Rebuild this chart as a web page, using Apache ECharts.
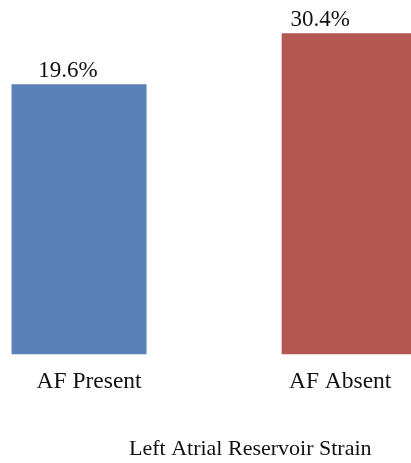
<!DOCTYPE html>
<html><head><meta charset="utf-8">
<script src="https://cdn.jsdelivr.net/npm/echarts@6/dist/echarts.min.js"></script>
<style>html,body{margin:0;padding:0;background:#fff}#c{width:411px;height:463px}</style>
</head><body><div id="c"></div>
<script>
const categories = ['AF Present', 'AF Absent'];
const values = [19.6, 30.4];
const barColors = ['#5a80b8', '#b25752'];
const axisTitle = 'Left Atrial Reservoir Strain';

const FONT = '"Liberation Serif", "Times New Roman", serif';
const chart = echarts.init(document.getElementById('c'));
chart.setOption({
  animation: false,
  title: {
    text: axisTitle, left: 129, top: 438, padding: 0,
    textStyle: { fontFamily: FONT, fontSize: 22, fontWeight: 'normal', color: '#111' }
  },
  grid: { left: -56, right: -73.2, top: 10, bottom: 108.7, outerBoundsMode: 'none' },
  xAxis: {
    type: 'category', data: categories,
    axisLine: { show: false }, axisTick: { show: false },
    axisLabel: {
      margin: 16, fontFamily: FONT, fontSize: 23.5, color: '#111',
      formatter: (v, i) => (i === 0 ? '{a|' + v + '}' : '{b|' + v + '}'),
      rich: {
        a: { fontFamily: FONT, fontSize: 23.5, color: '#111', padding: [0, 0, 0, 20] },
        b: { fontFamily: FONT, fontSize: 23.5, color: '#111', padding: [0, 18, 0, 0] }
      }
    }
  },
  yAxis: { type: 'log', min: 1.9195, max: 37.15, show: false, splitLine: { show: false } },
  series: [{
    type: 'bar', barWidth: 135, clip: true,
    data: values.map((v, i) => ({
      value: v,
      itemStyle: { color: barColors[i] },
      label: { offset: [i === 0 ? -11 : -29, 0] }
    })),
    label: {
      show: true, position: 'top', distance: 2,
      fontFamily: FONT, fontSize: 23, color: '#111',
      formatter: p => p.value.toFixed(1) + '%'
    }
  }]
});
</script></body></html>
